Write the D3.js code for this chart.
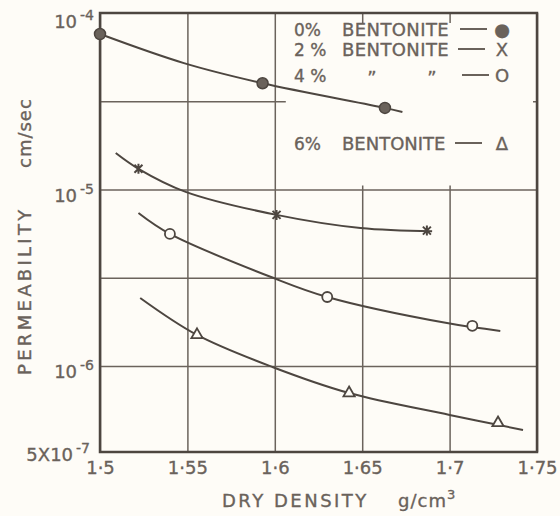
<!DOCTYPE html>
<html>
<head>
<meta charset="utf-8">
<script src="https://cdn.jsdelivr.net/npm/d3@7"></script>
<style>
  body { margin: 0; background: #fefcf7; }
  text { font-family: "DejaVu Sans", sans-serif; fill: #6a625b; stroke: #6a625b; stroke-width: 0.35px; }
</style>
</head>
<body>
<div id="grafica"></div>
<script>
// datos (density g/cm3, permeability cm/sec)
const xTicks = [1.5, 1.55, 1.6, 1.65, 1.7, 1.75]
const yTickExp = [-4, -5, -6, Math.log10(5e-7)]
const yTickBase = ['10', '10', '10', '5X10']
const yTickSup = ['-4', '-5', '-6', '-7']
const yGridExp = [-4.5, -5, -5.5, -6]

const curve0 = [[1.5, 7.6e-5], [1.548, 5.2e-5], [1.593, 4.0e-5], [1.663, 2.9e-5], [1.673, 2.75e-5]]
const points0 = [[1.5, 7.6e-5], [1.593, 4.0e-5], [1.663, 2.9e-5]]

const curve2 = [[1.509, 1.61e-5], [1.522, 1.31e-5], [1.549, 9.7e-6], [1.601, 7.18e-6], [1.649, 6.05e-6], [1.690, 5.8e-6]]
const points2 = [[1.522, 1.31e-5], [1.601, 7.18e-6], [1.687, 5.85e-6]]

const curve4 = [[1.522, 7.36e-6], [1.540, 5.6e-6], [1.599, 3.16e-6], [1.630, 2.46e-6], [1.6985, 1.75e-6], [1.729, 1.58e-6]]
const points4 = [[1.540, 5.6e-6], [1.630, 2.46e-6], [1.713, 1.69e-6]]

const curve6 = [[1.523, 2.43e-6], [1.5555, 1.5e-6], [1.599, 9.9e-7], [1.6425, 8.04e-7], [1.700, 6.74e-7], [1.742, 5.97e-7]]
const points6 = [[1.5555, 1.5e-6], [1.6425, 8.04e-7], [1.7277, 6.32e-7]]

const legendPct = ['0%', '2 %', '4 %', '6%']
const legendName = ['BENTONITE', 'BENTONITE', '', 'BENTONITE']
const legendSym = ['\u25CF', 'X', 'O', '\u0394']

const ink = '#4d4640'
const margin = { top: 13, right: 23, bottom: 64, left: 100 }
const svgWidth = 560
const svgHeight = 516
const chartWidth = svgWidth - margin.left - margin.right
const chartHeight = svgHeight - margin.top - margin.bottom

const x = d3.scaleLinear()
    .domain([1.5, 1.75])
    .range([0, chartWidth])

// log paper: decades of equal height, bottom row stretched down to 5x10^-7
const y = d3.scaleLinear()
    .domain([Math.log10(5e-7), -6, -4])
    .range([chartHeight, chartHeight - 86, 0])

const svg = d3.select('#grafica')
    .append('svg')
    .attr('width', svgWidth)
    .attr('height', svgHeight)

const g = svg.append('g')
    .attr('transform', `translate(${margin.left},${margin.top})`)

// grid
const gx = g.append('g')
    .attr('transform', `translate(0,${chartHeight})`)
    .call(d3.axisBottom(x).tickValues(xTicks).tickSize(-chartHeight).tickPadding(9)
        .tickFormat(d => String(d).replace('.', '\u00B7')))
gx.select('.domain').remove()
gx.selectAll('line').attr('stroke', '#6b635c').attr('stroke-width', 1.5)
gx.selectAll('text')
    .style('font-size', '18px')
    .attr('fill', '#6a625b')
    .attr('font-family', '"DejaVu Sans", sans-serif')

const gy = g.append('g')
    .call(d3.axisLeft(y).tickValues(yGridExp).tickSize(-chartWidth).tickFormat(''))
gy.select('.domain').remove()
gy.selectAll('line').attr('stroke', '#6b635c').attr('stroke-width', 1.5)

// y labels with exponents
yTickExp.forEach((e, i) => {
    const last = i === yTickExp.length - 1
    const t = svg.append('text')
        .attr('x', margin.left - (last ? 10 : 6))
        .attr('y', margin.top + Math.max(y(e) + (last ? 9 : 12), 15))
        .attr('text-anchor', 'end')
        .style('font-size', '18px')
    t.append('tspan').text(yTickBase[i])
    t.append('tspan').attr('dx', 3).attr('dy', -8).style('font-size', '14px').text(yTickSup[i])
})

// legend box hides the grid
g.append('rect')
    .attr('x', x(1.6) + 11)
    .attr('y', 10)
    .attr('width', chartWidth - x(1.6) - 15)
    .attr('height', y(-5) - 14)
    .attr('fill', '#fefcf7')

// frame
g.append('rect')
    .attr('width', chartWidth)
    .attr('height', chartHeight)
    .attr('fill', 'none')
    .attr('stroke', ink)
    .attr('stroke-width', 2.5)

// curves
const line = d3.line()
    .x(d => x(d[0]))
    .y(d => y(Math.log10(d[1])))
    .curve(d3.curveCatmullRom.alpha(0.5))

;[curve0, curve2, curve4, curve6].forEach(c => {
    g.append('path')
        .datum(c)
        .attr('d', line)
        .attr('fill', 'none')
        .attr('stroke', ink)
        .attr('stroke-width', 2)
})

const px = d => x(d[0])
const py = d => y(Math.log10(d[1]))

g.selectAll('.p0').data(points0).enter().append('circle')
    .attr('cx', px).attr('cy', py).attr('r', 5.5)
    .attr('fill', '#6a625b').attr('stroke', ink).attr('stroke-width', 1.5)

g.selectAll('.p2').data(points2).enter().append('path')
    .attr('transform', d => `translate(${px(d)},${py(d)})`)
    .attr('d', 'M-4,-4L4,4M-4,4L4,-4M0,-5V5')
    .attr('stroke', ink).attr('stroke-width', 2).attr('fill', 'none')

g.selectAll('.p4').data(points4).enter().append('circle')
    .attr('cx', px).attr('cy', py).attr('r', 5)
    .attr('fill', '#fefcf7').attr('stroke', ink).attr('stroke-width', 1.8)

g.selectAll('.p6').data(points6).enter().append('path')
    .attr('transform', d => `translate(${px(d)},${py(d)})`)
    .attr('d', d3.symbol(d3.symbolTriangle, 55))
    .attr('fill', '#fefcf7').attr('stroke', ink).attr('stroke-width', 1.8)

// legend
const rowY = [36, 56, 82, 150]
const dashX = [460, 458, 462, 455]
legendPct.forEach((p, i) => {
    svg.append('text').attr('x', 294).attr('y', rowY[i]).style('font-size', '17px').text(p)
    svg.append('text').attr('x', 342).attr('y', rowY[i]).style('font-size', '18px')
        .style('letter-spacing', i === 3 ? '0px' : '0.4px').text(legendName[i])
    svg.append('line')
        .attr('x1', dashX[i]).attr('x2', dashX[i] + 27)
        .attr('y1', rowY[i] - 7).attr('y2', rowY[i] - 7)
        .attr('stroke', '#6a625b').attr('stroke-width', 2)
    svg.append('text').attr('x', 502).attr('y', rowY[i]).attr('text-anchor', 'middle')
        .style('font-size', '18px').text(legendSym[i])
})
// ditto marks
;[372, 432].forEach(dx => {
    svg.append('text').attr('x', dx).attr('y', 84).attr('text-anchor', 'middle')
        .style('font-size', '18px').text('\u201D')
})

// titles
svg.append('text')
    .attr('x', 222).attr('y', 507)
    .style('font-size', '18px').style('letter-spacing', '2.5px')
    .text('DRY DENSITY')
const gt = svg.append('text')
    .attr('x', 398).attr('y', 507)
    .style('font-size', '18px').style('letter-spacing', '1px')
gt.append('tspan').text('g/cm')
gt.append('tspan').attr('dy', -8).style('font-size', '13px').text('3')

svg.append('text')
    .attr('transform', 'translate(31,375) rotate(-90)')
    .style('font-size', '18px').style('letter-spacing', '3.3px')
    .text('PERMEABILITY')
svg.append('text')
    .attr('transform', 'translate(31,168) rotate(-90)')
    .style('font-size', '18px').style('letter-spacing', '1px')
    .text('cm/sec')
</script>
</body>
</html>
